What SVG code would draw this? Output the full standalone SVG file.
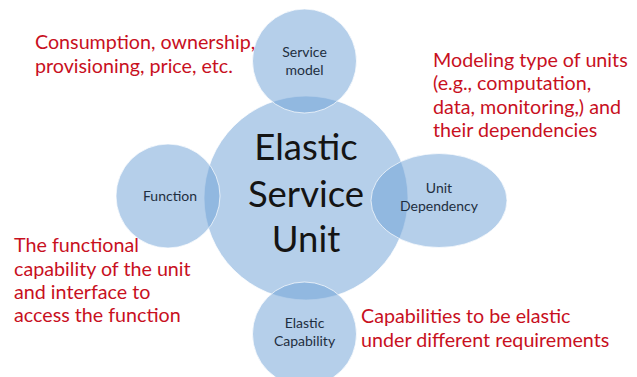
<svg xmlns="http://www.w3.org/2000/svg" width="637" height="377" viewBox="0 0 637 377">
<style>
.c{fill:#71a3d7;fill-opacity:0.52;stroke:#ffffff;stroke-opacity:0.7;stroke-width:1}
.lbl{font-family:Lato,"Open Sans","Liberation Sans",sans-serif;font-size:14px;fill:#1e2e40;text-anchor:middle}
.big{font-family:Lato,"Open Sans","Liberation Sans",sans-serif;font-size:36.5px;fill:#141414;text-anchor:middle}
.note{font-family:Lato,"Open Sans","Liberation Sans",sans-serif;font-size:19.7px;fill:#c8101e}
</style>
<rect width="637" height="377" fill="#ffffff"/>
<g id="connectors"></g>
<g id="node-esu">
<circle class="c" cx="306" cy="198" r="102"/>
<text class="big" x="306" y="160">Elastic</text>
<text class="big" x="306" y="207">Service</text>
<text class="big" x="306" y="252">Unit</text>
</g>
<g id="node-service-model">
<circle class="c" cx="304.5" cy="61" r="52"/>
<text class="lbl" x="304.5" y="57.3">Service</text>
<text class="lbl" x="304.5" y="75.3">model</text>
</g>
<g id="node-function">
<circle class="c" cx="168" cy="196" r="52"/>
<text class="lbl" x="170" y="201">Function</text>
</g>
<g id="node-unit-dependency">
<ellipse class="c" cx="439" cy="200.5" rx="68" ry="47"/>
<text class="lbl" x="439" y="192.5">Unit</text>
<text class="lbl" x="439" y="210.5">Dependency</text>
</g>
<g id="node-elastic-capability">
<circle class="c" cx="304.5" cy="334" r="52"/>
<text class="lbl" x="304.5" y="327.5">Elastic</text>
<text class="lbl" x="304.5" y="345.5">Capability</text>
</g>
<g id="notes">
<text class="note" x="35" y="49">Consumption, ownership,</text>
<text class="note" x="35" y="73">provisioning, price, etc.</text>
<text class="note" x="433" y="66.7">Modeling type of units</text>
<text class="note" x="433" y="90">(e.g., computation,</text>
<text class="note" x="433" y="114">data, monitoring,) and</text>
<text class="note" x="433" y="137">their dependencies</text>
<text class="note" x="14" y="252">The functional</text>
<text class="note" x="14" y="275.5">capability of the unit</text>
<text class="note" x="14" y="299">and interface to</text>
<text class="note" x="14" y="322">access the function</text>
<text class="note" x="361" y="323">Capabilities to be elastic</text>
<text class="note" x="361" y="346.5">under different requirements</text>
</g>
</svg>
